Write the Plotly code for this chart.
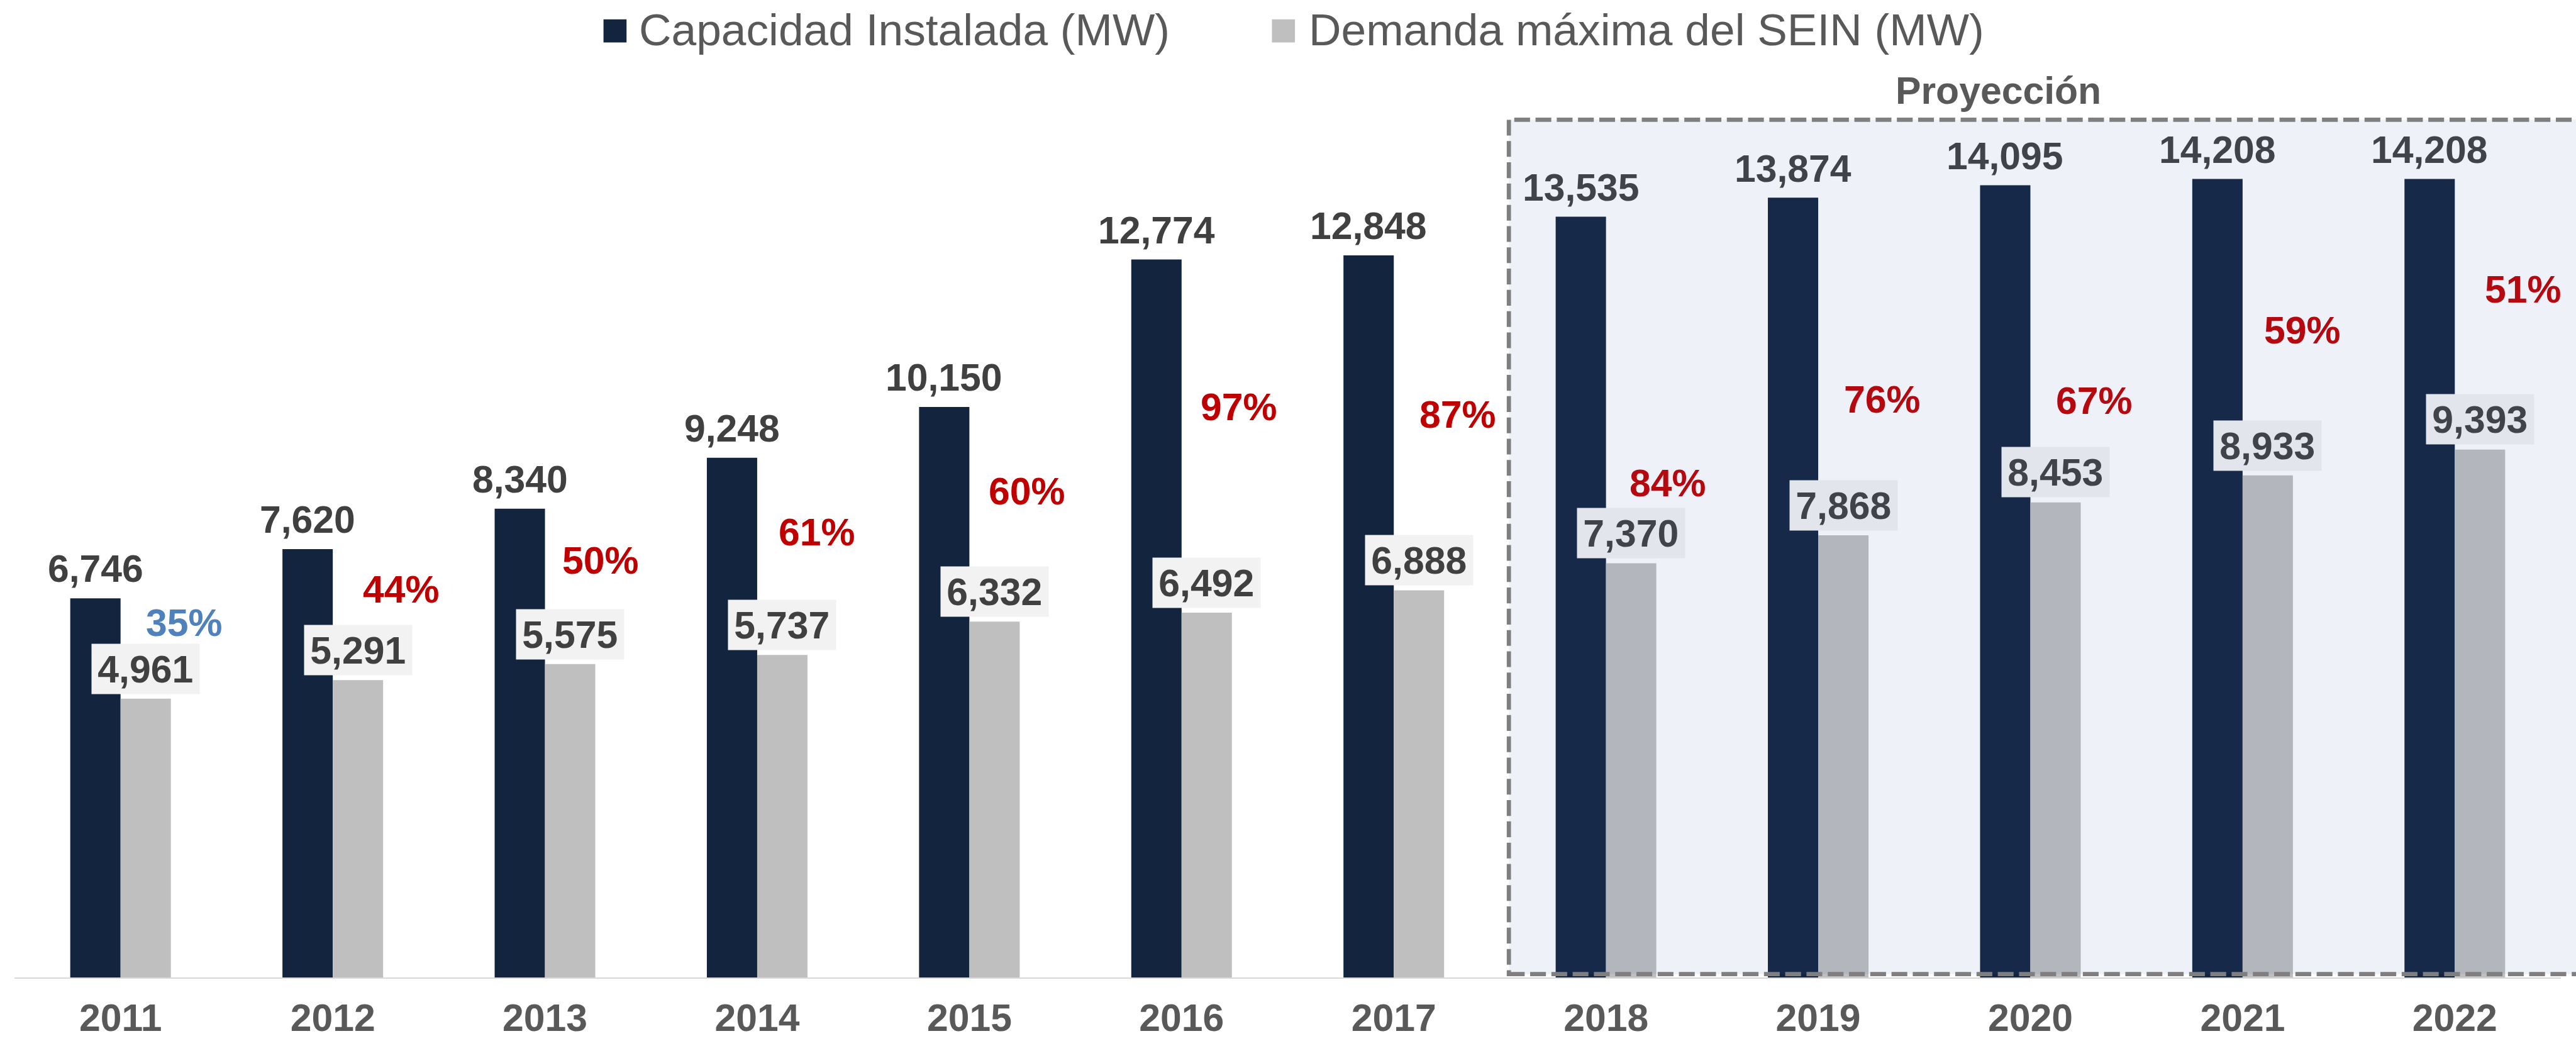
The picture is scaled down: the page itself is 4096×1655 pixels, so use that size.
import plotly.graph_objects as go

# ---------------- data ----------------
years = ["2011", "2012", "2013", "2014", "2015", "2016", "2017",
         "2018", "2019", "2020", "2021", "2022"]
capacidad = [6746, 7620, 8340, 9248, 10150, 12774, 12848,
             13535, 13874, 14095, 14208, 14208]
demanda = [4961, 5291, 5575, 5737, 6332, 6492, 6888,
           7370, 7868, 8453, 8933, 9393]
margen_txt = ["35%", "44%", "50%", "61%", "60%", "97%", "87%",
              "84%", "76%", "67%", "59%", "51%"]
serie_cap = "Capacidad Instalada (MW)"
serie_dem = "Demanda máxima del SEIN (MW)"
proy_txt = "Proyección"
proy_start = "2018"

# ---------------- layout helpers (positions / styles) ----------------
S = 4096 / 4251          # scale from reference to output
W, H = 4096, 1655
L_REF, R_REF, T_REF, B_REF = 24, 4226, 83, 1613
PX_PER_MW = 0.09275      # reference pixels per MW
YMAX = (B_REF - T_REF) / PX_PER_MW

def px(x):   # reference pixel x -> paper
    return (x - L_REF) / (R_REF - L_REF)

def py(y):   # reference pixel y -> paper
    return (B_REF - y) / (B_REF - T_REF)

FONT = "Liberation Sans, Arial, sans-serif"
C_DARK = "#13243F"
C_GREY = "#BFBFBF"
C_LABEL = "#404040"
C_AXIS_TXT = "#595959"
C_RED = "#C00000"
C_BLUE = "#4F81BD"
C_BOX = "#F2F2F2"
OV_RGB, OV_A = (60, 106, 175), 0.087   # translucent tint of the projection panel

def tint(hexcol):
    h = hexcol.lstrip("#")
    rgb = [int(h[k:k + 2], 16) for k in (0, 2, 4)]
    out = [round(c * (1 - OV_A) + o * OV_A) for c, o in zip(rgb, OV_RGB)]
    return "#%02X%02X%02X" % tuple(out)

BARGAP = 1 - 166 / 350
BAR_W = (1 - BARGAP) / 2
# percentage label placement (y in MW units, x offset in categories)
pct_y = [6313, 6900, 7423, 7925, 8651, 10146, 10011, 8798, 10286, 10259, 11515, 12248]
pct_dx = [0.30, 0.32, 0.26, 0.28, 0.27, 0.27, 0.30, 0.29, 0.30, 0.30, 0.28, 0.32]
pct_col = [C_BLUE] + [C_RED] * 11

xs = list(range(len(years)))
i_proy = years.index(proy_start)

fig = go.Figure()
fig.add_trace(go.Bar(x=xs, y=capacidad, name=serie_cap, marker_color=C_DARK,
                     marker_line_width=0, showlegend=False, hoverinfo="skip"))
fig.add_trace(go.Bar(x=xs, y=demanda, name=serie_dem, marker_color=C_GREY,
                     marker_line_width=0, showlegend=False, hoverinfo="skip"))

ann = []
for i, x in enumerate(xs):
    inside = i >= i_proy
    tc = tint(C_LABEL) if inside else C_LABEL
    lab_font = dict(family=FONT, size=63 * S, color=tc, weight="bold")
    ann.append(dict(x=x - BAR_W / 2, y=capacidad[i], xref="x", yref="y",
                    text=f"{capacidad[i]:,}", showarrow=False,
                    yanchor="middle", xanchor="center", yshift=48.5 * S,
                    font=lab_font))
    ann.append(dict(x=x + BAR_W / 2, y=demanda[i], xref="x", yref="y",
                    text=f"{demanda[i]:,}", showarrow=False,
                    yanchor="middle", xanchor="center", yshift=49.5 * S,
                    width=177 * S, height=82 * S, borderpad=0,
                    bgcolor=tint(C_BOX) if inside else C_BOX, font=lab_font))
    pc = tint(pct_col[i]) if inside else pct_col[i]
    ann.append(dict(x=x + pct_dx[i], y=pct_y[i], xref="x", yref="y",
                    text=margen_txt[i], showarrow=False,
                    yanchor="middle", xanchor="center",
                    font=dict(family=FONT, size=63 * S, color=pc, weight="bold")))

# "Proyección" title
ann.append(dict(x=px(3298), y=py(149), xref="paper", yref="paper", text=proy_txt,
                showarrow=False, xanchor="center", yanchor="middle",
                font=dict(family=FONT, size=63 * S, color=C_AXIS_TXT, weight="bold")))

# manual legend
leg_font = dict(family=FONT, size=74 * S, color=C_AXIS_TXT)
ann.append(dict(x=px(1052), y=py(49), xref="paper", yref="paper", text=serie_cap,
                showarrow=False, xanchor="left", yanchor="middle", font=leg_font))
ann.append(dict(x=px(2158), y=py(49), xref="paper", yref="paper", text=serie_dem,
                showarrow=False, xanchor="left", yanchor="middle", font=leg_font))

shapes = [
    dict(type="rect", xref="paper", yref="paper", x0=px(996), x1=px(1034),
         y0=py(70), y1=py(32), fillcolor=C_DARK, line_width=0),
    dict(type="rect", xref="paper", yref="paper", x0=px(2099), x1=px(2137),
         y0=py(70), y1=py(32), fillcolor=C_GREY, line_width=0),
    # projection box (translucent overlay above bars)
    dict(type="rect", xref="paper", yref="paper", x0=px(2490), x1=px(4258),
         y0=py(1607.5), y1=py(197.5), layer="above",
         fillcolor="rgba(%d,%d,%d,%.3f)" % (*OV_RGB, OV_A),
         line=dict(color="#7F7F7F", width=7 * S, dash=f"{26 * S:.1f}px,{9 * S:.1f}px")),
]

fig.update_layout(
    width=W, height=H,
    margin=dict(l=L_REF * S, r=(4251 - R_REF) * S, t=T_REF * S, b=(1718 - B_REF) * S,
                pad=0, autoexpand=False),
    paper_bgcolor="white", plot_bgcolor="white",
    barmode="group", bargap=BARGAP, bargroupgap=0,
    showlegend=False,
    annotations=ann, shapes=shapes,
    xaxis=dict(range=[-0.5, len(years) - 0.5], tickmode="array", tickvals=xs,
               ticktext=years, showgrid=False, zeroline=False, showline=True,
               linecolor="#D9D9D9", linewidth=2.5 * S, ticks="",
               tickfont=dict(family=FONT, size=63 * S, color=C_AXIS_TXT, weight="bold"),
               ticklabelstandoff=10, fixedrange=True),
    yaxis=dict(range=[0, YMAX], visible=False, showgrid=False, zeroline=False,
               fixedrange=True),
    font=dict(family=FONT),
)

fig.write_html("out.html", config={"displayModeBar": False})
